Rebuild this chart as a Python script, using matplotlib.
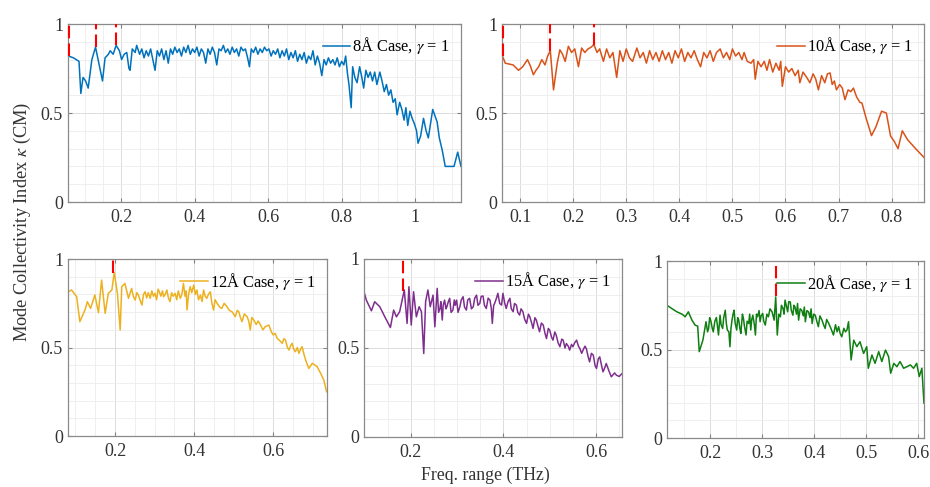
import matplotlib
matplotlib.use('Agg')
import matplotlib.pyplot as plt
from matplotlib.ticker import MultipleLocator, FuncFormatter

plt.rcParams['font.family'] = ['Liberation Serif', 'DejaVu Serif']
plt.rcParams['mathtext.fontset'] = 'stix'

# 8 A case
x8 = [0.056, 0.070, 0.085, 0.090, 0.096, 0.103, 0.110, 0.120, 0.130, 0.140, 0.149, 0.156, 0.165, 0.170,
      0.178, 0.186, 0.195, 0.201, 0.208, 0.215, 0.221, 0.224, 0.230, 0.238, 0.242, 0.250, 0.256, 0.262,
      0.268, 0.274, 0.280, 0.286, 0.292, 0.298, 0.304, 0.310, 0.316, 0.322, 0.328, 0.334, 0.340, 0.346,
      0.352, 0.358, 0.364, 0.370, 0.376, 0.382, 0.388, 0.394, 0.400, 0.406, 0.412, 0.418, 0.424, 0.430,
      0.436, 0.442, 0.448, 0.454, 0.460, 0.466, 0.472, 0.478, 0.484, 0.490, 0.496, 0.502, 0.508, 0.514,
      0.520, 0.526, 0.532, 0.538, 0.544, 0.549, 0.554, 0.560, 0.566, 0.572, 0.578, 0.584, 0.590, 0.596,
      0.602, 0.608, 0.614, 0.620, 0.626, 0.632, 0.638, 0.644, 0.650, 0.656, 0.662, 0.668, 0.674, 0.680,
      0.686, 0.692, 0.698, 0.704, 0.710, 0.716, 0.722, 0.728, 0.734, 0.740, 0.746, 0.752, 0.758, 0.764,
      0.770, 0.776, 0.782, 0.788, 0.794, 0.800, 0.806, 0.811, 0.816, 0.820, 0.826, 0.830, 0.836, 0.842,
      0.849, 0.855, 0.860, 0.866, 0.872, 0.878, 0.884, 0.890, 0.896, 0.904, 0.910, 0.916, 0.922, 0.928,
      0.934, 0.940, 0.946, 0.951, 0.958, 0.964, 0.970, 0.975, 0.980, 0.986, 0.992, 0.998, 1.004, 1.008,
      1.015, 1.023, 1.030, 1.036, 1.042, 1.048, 1.055, 1.060, 1.066, 1.074, 1.082, 1.095, 1.106, 1.116,
      1.125]
y8 = [0.82, 0.81, 0.79, 0.61, 0.70, 0.68, 0.64, 0.80, 0.87, 0.77, 0.68, 0.81, 0.83, 0.85,
      0.83, 0.88, 0.85, 0.80, 0.83, 0.84, 0.75, 0.74, 0.86, 0.84, 0.88, 0.83, 0.86, 0.81,
      0.85, 0.82, 0.86, 0.80, 0.74, 0.85, 0.82, 0.86, 0.80, 0.85, 0.78, 0.86, 0.83, 0.87,
      0.84, 0.86, 0.82, 0.87, 0.84, 0.88, 0.83, 0.86, 0.84, 0.87, 0.82, 0.86, 0.84, 0.78,
      0.86, 0.83, 0.87, 0.84, 0.77, 0.86, 0.85, 0.88, 0.84, 0.86, 0.83, 0.87, 0.84, 0.86,
      0.82, 0.87, 0.85, 0.86, 0.81, 0.76, 0.86, 0.84, 0.87, 0.83, 0.86, 0.84, 0.87, 0.85,
      0.86, 0.82, 0.85, 0.83, 0.86, 0.81, 0.85, 0.82, 0.86, 0.80, 0.84, 0.81, 0.85, 0.79,
      0.83, 0.80, 0.84, 0.78, 0.82, 0.80, 0.85, 0.77, 0.82, 0.78, 0.71, 0.80, 0.77, 0.81,
      0.78, 0.80, 0.77, 0.81, 0.76, 0.79, 0.77, 0.82, 0.72, 0.66, 0.53, 0.76, 0.70, 0.67,
      0.76, 0.70, 0.64, 0.74, 0.70, 0.73, 0.68, 0.73, 0.66, 0.73, 0.68, 0.62, 0.66, 0.60,
      0.63, 0.56, 0.58, 0.49, 0.56, 0.52, 0.46, 0.53, 0.43, 0.51, 0.47, 0.44, 0.40, 0.33,
      0.37, 0.47, 0.40, 0.36, 0.44, 0.52, 0.48, 0.45, 0.36, 0.29, 0.20, 0.20, 0.20, 0.28,
      0.20]

# 10 A case
x10 = [0.067, 0.072, 0.087, 0.097, 0.105, 0.114, 0.120, 0.125, 0.130, 0.135, 0.141, 0.147, 0.152, 0.157,
       0.163, 0.170, 0.175, 0.180, 0.185, 0.191, 0.197, 0.203, 0.210, 0.216, 0.222, 0.228, 0.234, 0.239,
       0.245, 0.250, 0.257, 0.263, 0.269, 0.275, 0.282, 0.288, 0.294, 0.300, 0.306, 0.312, 0.320, 0.326,
       0.332, 0.338, 0.344, 0.350, 0.356, 0.362, 0.368, 0.374, 0.380, 0.386, 0.392, 0.398, 0.404, 0.410,
       0.416, 0.422, 0.428, 0.434, 0.440, 0.446, 0.452, 0.458, 0.464, 0.470, 0.477, 0.483, 0.489, 0.495,
       0.500, 0.506, 0.512, 0.518, 0.522, 0.528, 0.535, 0.540, 0.543, 0.548, 0.554, 0.560, 0.565, 0.570,
       0.576, 0.582, 0.588, 0.591, 0.594, 0.600, 0.606, 0.612, 0.618, 0.624, 0.627, 0.633, 0.640, 0.646,
       0.652, 0.657, 0.662, 0.668, 0.674, 0.679, 0.684, 0.688, 0.692, 0.696, 0.702, 0.707, 0.712, 0.718,
       0.723, 0.728, 0.734, 0.740, 0.744, 0.752, 0.762, 0.770, 0.781, 0.790, 0.798, 0.805, 0.812, 0.820,
       0.830, 0.845, 0.861]
y10 = [0.82, 0.78, 0.77, 0.74, 0.76, 0.80, 0.76, 0.715, 0.74, 0.76, 0.80, 0.77, 0.82, 0.85,
       0.63, 0.78, 0.855, 0.83, 0.79, 0.875, 0.84, 0.86, 0.76, 0.865, 0.84, 0.86, 0.87, 0.885,
       0.84, 0.86, 0.79, 0.86, 0.81, 0.84, 0.70, 0.85, 0.79, 0.86, 0.81, 0.79, 0.865, 0.81,
       0.84, 0.78, 0.85, 0.80, 0.84, 0.79, 0.85, 0.80, 0.84, 0.78, 0.85, 0.81, 0.86, 0.79,
       0.84, 0.81, 0.85, 0.80, 0.76, 0.84, 0.81, 0.85, 0.79, 0.84, 0.86, 0.81, 0.84, 0.80,
       0.86, 0.82, 0.84, 0.80, 0.84, 0.79, 0.78, 0.80, 0.69, 0.79, 0.76, 0.79, 0.74, 0.80,
       0.73, 0.78, 0.74, 0.79, 0.65, 0.76, 0.73, 0.75, 0.71, 0.74, 0.67, 0.73, 0.70, 0.67,
       0.72, 0.69, 0.63, 0.71, 0.67, 0.72, 0.725, 0.66, 0.68, 0.63, 0.66, 0.64, 0.575, 0.63,
       0.62, 0.64, 0.59, 0.56, 0.556, 0.47, 0.373, 0.42, 0.51, 0.50, 0.37, 0.34, 0.30, 0.40,
       0.35, 0.30, 0.25]

# 12 A case
x12 = [0.082, 0.090, 0.103, 0.111, 0.124, 0.130, 0.138, 0.149, 0.158, 0.166, 0.175, 0.183, 0.192, 0.198,
       0.206, 0.213, 0.217, 0.225, 0.234, 0.242, 0.246, 0.251, 0.255, 0.259, 0.263, 0.268, 0.272, 0.276,
       0.280, 0.284, 0.289, 0.293, 0.297, 0.301, 0.305, 0.309, 0.312, 0.316, 0.320, 0.323, 0.327, 0.331,
       0.335, 0.339, 0.343, 0.347, 0.352, 0.356, 0.360, 0.365, 0.369, 0.373, 0.377, 0.380, 0.382, 0.386,
       0.390, 0.394, 0.399, 0.403, 0.407, 0.411, 0.416, 0.420, 0.424, 0.428, 0.432, 0.436, 0.441, 0.445,
       0.449, 0.453, 0.458, 0.464, 0.470, 0.476, 0.483, 0.489, 0.496, 0.504, 0.509, 0.513, 0.517, 0.521,
       0.527, 0.534, 0.538, 0.542, 0.546, 0.551, 0.557, 0.562, 0.568, 0.574, 0.580, 0.589, 0.595, 0.600,
       0.605, 0.610, 0.616, 0.623, 0.627, 0.631, 0.636, 0.640, 0.644, 0.648, 0.652, 0.656, 0.661, 0.665,
       0.669, 0.673, 0.678, 0.682, 0.690, 0.699, 0.711, 0.720, 0.728, 0.735]
y12 = [0.815, 0.825, 0.787, 0.646, 0.712, 0.759, 0.721, 0.797, 0.697, 0.881, 0.693, 0.806, 0.825, 0.925,
       0.806, 0.599, 0.844, 0.862, 0.778, 0.834, 0.79, 0.768, 0.81, 0.797, 0.77, 0.740, 0.80, 0.815,
       0.78, 0.81, 0.778, 0.82, 0.79, 0.806, 0.77, 0.83, 0.815, 0.79, 0.82, 0.787, 0.80, 0.825,
       0.78, 0.759, 0.81, 0.79, 0.806, 0.77, 0.82, 0.778, 0.80, 0.862, 0.79, 0.82, 0.712, 0.80,
       0.844, 0.81, 0.853, 0.80, 0.825, 0.77, 0.797, 0.76, 0.825, 0.79, 0.778, 0.80, 0.815, 0.75,
       0.712, 0.77, 0.750, 0.73, 0.721, 0.75, 0.731, 0.71, 0.702, 0.674, 0.71, 0.702, 0.67, 0.646,
       0.69, 0.674, 0.65, 0.599, 0.67, 0.655, 0.63, 0.65, 0.627, 0.60, 0.618, 0.627, 0.59, 0.571,
       0.58, 0.552, 0.54, 0.524, 0.55, 0.542, 0.50, 0.486, 0.51, 0.524, 0.49, 0.476, 0.50, 0.467,
       0.49, 0.505, 0.46, 0.429, 0.382, 0.411, 0.392, 0.354, 0.316, 0.250]

# 15 A case
x15 = [0.099, 0.104, 0.115, 0.122, 0.133, 0.144, 0.156, 0.163, 0.169, 0.176, 0.186, 0.192, 0.196, 0.201,
       0.206, 0.212, 0.218, 0.223, 0.228, 0.232, 0.237, 0.242, 0.248, 0.252, 0.257, 0.260, 0.263, 0.265,
       0.268, 0.270, 0.273, 0.276, 0.278, 0.281, 0.284, 0.287, 0.291, 0.294, 0.296, 0.299, 0.302, 0.306,
       0.309, 0.313, 0.316, 0.320, 0.323, 0.327, 0.331, 0.335, 0.338, 0.342, 0.345, 0.349, 0.352, 0.356,
       0.359, 0.363, 0.367, 0.371, 0.374, 0.376, 0.379, 0.381, 0.385, 0.388, 0.392, 0.396, 0.399, 0.403,
       0.406, 0.410, 0.414, 0.417, 0.421, 0.424, 0.428, 0.431, 0.435, 0.438, 0.442, 0.446, 0.450, 0.454,
       0.457, 0.461, 0.464, 0.468, 0.471, 0.475, 0.478, 0.482, 0.486, 0.490, 0.493, 0.497, 0.500, 0.504,
       0.507, 0.511, 0.514, 0.518, 0.522, 0.526, 0.529, 0.533, 0.536, 0.540, 0.543, 0.547, 0.550, 0.554,
       0.558, 0.562, 0.565, 0.569, 0.572, 0.576, 0.579, 0.583, 0.586, 0.590, 0.594, 0.598, 0.601, 0.605,
       0.608, 0.612, 0.615, 0.619, 0.622, 0.628, 0.633, 0.640, 0.644, 0.650, 0.656]
y15 = [0.816, 0.769, 0.709, 0.760, 0.732, 0.675, 0.615, 0.713, 0.675, 0.704, 0.826, 0.638, 0.844, 0.629,
       0.816, 0.675, 0.732, 0.704, 0.469, 0.760, 0.826, 0.732, 0.797, 0.619, 0.835, 0.700, 0.722, 0.760,
       0.657, 0.740, 0.769, 0.720, 0.732, 0.760, 0.779, 0.700, 0.713, 0.770, 0.740, 0.769, 0.700, 0.732,
       0.770, 0.788, 0.730, 0.713, 0.770, 0.779, 0.720, 0.732, 0.780, 0.797, 0.740, 0.750, 0.790, 0.792,
       0.740, 0.722, 0.780, 0.769, 0.720, 0.638, 0.740, 0.750, 0.780, 0.807, 0.750, 0.741, 0.807, 0.750,
       0.722, 0.760, 0.779, 0.720, 0.704, 0.750, 0.741, 0.700, 0.685, 0.720, 0.704, 0.660, 0.638, 0.690,
       0.675, 0.640, 0.610, 0.670, 0.657, 0.620, 0.591, 0.640, 0.629, 0.580, 0.553, 0.610, 0.600, 0.560,
       0.544, 0.590, 0.572, 0.530, 0.507, 0.550, 0.544, 0.500, 0.525, 0.510, 0.488, 0.520, 0.507, 0.530,
       0.544, 0.510, 0.497, 0.470, 0.488, 0.510, 0.497, 0.450, 0.422, 0.470, 0.460, 0.400, 0.385, 0.440,
       0.450, 0.400, 0.366, 0.390, 0.413, 0.370, 0.338, 0.360, 0.347, 0.340, 0.356]

# 20 A case
x20 = [0.117, 0.126, 0.136, 0.146, 0.152, 0.158, 0.165, 0.171, 0.176, 0.179, 0.186, 0.192, 0.195, 0.197,
       0.199, 0.201, 0.204, 0.206, 0.209, 0.212, 0.214, 0.216, 0.219, 0.221, 0.224, 0.226, 0.229, 0.231,
       0.233, 0.236, 0.238, 0.240, 0.242, 0.244, 0.246, 0.248, 0.251, 0.253, 0.255, 0.257, 0.259, 0.262,
       0.264, 0.266, 0.269, 0.271, 0.274, 0.276, 0.278, 0.280, 0.282, 0.285, 0.287, 0.289, 0.291, 0.294,
       0.296, 0.298, 0.301, 0.303, 0.306, 0.309, 0.312, 0.315, 0.319, 0.321, 0.323, 0.326, 0.329, 0.332,
       0.335, 0.337, 0.340, 0.342, 0.344, 0.347, 0.349, 0.351, 0.354, 0.356, 0.359, 0.361, 0.363, 0.366,
       0.368, 0.370, 0.373, 0.376, 0.379, 0.381, 0.383, 0.386, 0.389, 0.392, 0.394, 0.396, 0.399, 0.402,
       0.405, 0.408, 0.411, 0.415, 0.418, 0.421, 0.424, 0.428, 0.432, 0.437, 0.441, 0.444, 0.447, 0.450,
       0.453, 0.457, 0.460, 0.463, 0.466, 0.471, 0.476, 0.482, 0.488, 0.495, 0.501, 0.504, 0.511, 0.517,
       0.524, 0.530, 0.537, 0.543, 0.547, 0.553, 0.559, 0.565, 0.572, 0.578, 0.585, 0.591, 0.597, 0.602,
       0.607, 0.611]
y20 = [0.750, 0.732, 0.713, 0.700, 0.685, 0.713, 0.666, 0.638, 0.632, 0.488, 0.553, 0.657, 0.600, 0.619,
       0.680, 0.666, 0.620, 0.600, 0.660, 0.681, 0.630, 0.582, 0.694, 0.640, 0.619, 0.680, 0.722, 0.650,
       0.610, 0.600, 0.516, 0.620, 0.666, 0.700, 0.722, 0.650, 0.610, 0.680, 0.666, 0.620, 0.591, 0.700,
       0.675, 0.630, 0.582, 0.660, 0.647, 0.700, 0.610, 0.670, 0.694, 0.640, 0.582, 0.700, 0.685, 0.720,
       0.657, 0.690, 0.704, 0.660, 0.638, 0.700, 0.685, 0.730, 0.713, 0.690, 0.666, 0.797, 0.582, 0.700,
       0.685, 0.750, 0.732, 0.700, 0.779, 0.740, 0.713, 0.770, 0.769, 0.720, 0.694, 0.750, 0.741, 0.700,
       0.760, 0.666, 0.730, 0.722, 0.690, 0.740, 0.657, 0.720, 0.713, 0.680, 0.730, 0.647, 0.700, 0.694,
       0.660, 0.629, 0.690, 0.666, 0.640, 0.619, 0.670, 0.647, 0.620, 0.582, 0.640, 0.600, 0.629, 0.590,
       0.572, 0.620, 0.600, 0.610, 0.657, 0.441, 0.553, 0.516, 0.544, 0.478, 0.516, 0.394, 0.469, 0.422,
       0.488, 0.432, 0.497, 0.460, 0.366, 0.422, 0.403, 0.432, 0.394, 0.403, 0.413, 0.394, 0.422, 0.347,
       0.394, 0.197]

# red dashed markers: x position, lower and upper end
mark8 = [(0.057, 0.82, 1.0), (0.130, 0.87, 1.0), (0.186, 0.88, 1.0)]
mark10 = [(0.068, 0.82, 1.0), (0.157, 0.85, 1.0), (0.239, 0.88, 1.0)]
mark12 = [(0.194, 0.92, 1.0)]
mark15 = [(0.183, 0.82, 1.0)]
mark20 = [(0.326, 0.80, 0.97)]

labels = ['8Å', '10Å', '12Å', '15Å', '20Å']
colors = ['#0072BD', '#D95319', '#EDB120', '#7E2F8E', '#0F7F12']
xlims = [(0.055, 1.125), (0.066, 0.861), (0.081, 0.736), (0.099, 0.656), (0.117, 0.611)]
xsteps = [0.2, 0.1, 0.2, 0.2, 0.1]
boxes = [[0.0731, 0.5852, 0.4226, 0.3655], [0.5398, 0.5852, 0.4538, 0.3655],
         [0.0731, 0.1047, 0.2785, 0.3634], [0.3914, 0.1027, 0.2774, 0.3655],
         [0.7172, 0.1006, 0.2763, 0.3634]]

data = [(x8, y8, mark8), (x10, y10, mark10), (x12, y12, mark12), (x15, y15, mark15), (x20, y20, mark20)]

fig = plt.figure(figsize=(9.3, 4.87), dpi=100)
fmt = FuncFormatter(lambda v, p: '%g' % round(v, 3))

for i in range(5):
    xs, ys, marks = data[i]
    ax = fig.add_axes(boxes[i])
    ax.plot(xs, ys, color=colors[i], lw=1.1, label=labels[i] + r' Case, $\gamma$ = 1')
    for mx, lo, hi in marks:
        ax.plot([mx, mx], [lo, hi], color='red', lw=1.5, linestyle=(0, (6, 2.5)),
                zorder=4, clip_on=False)
    ax.set_xlim(xlims[i])
    ax.set_ylim(0, 1)
    ax.xaxis.set_major_locator(MultipleLocator(xsteps[i]))
    ax.xaxis.set_minor_locator(MultipleLocator(0.05))
    ax.yaxis.set_major_locator(MultipleLocator(0.5))
    ax.yaxis.set_minor_locator(MultipleLocator(0.1))
    ax.xaxis.set_major_formatter(fmt)
    ax.yaxis.set_major_formatter(fmt)
    ax.grid(which='major', color='#dcdcdc', lw=0.7)
    ax.grid(which='minor', color='#ececec', lw=0.6)
    ax.set_axisbelow(True)
    ax.tick_params(which='major', direction='in', length=3, top=True, right=True,
                   labelsize=13, colors='#808080', labelcolor='#333333')
    ax.tick_params(axis='x', pad=5)
    ax.tick_params(which='minor', length=0)
    for s in ax.spines.values():
        s.set_color('#8a8a8a')
        s.set_linewidth(0.9)
    ax.legend(loc='upper right', frameon=False, fontsize=11.8, handlelength=1.7,
              handletextpad=0.1, borderaxespad=0.3)

fig.text(0.024, 0.545, r'Mode Collectivity Index $\kappa$ (CM)', rotation=90,
         ha='center', va='center', fontsize=13.2, color='#333333')
fig.text(0.522, 0.023, 'Freq. range (THz)', ha='center', va='center', fontsize=12.8, color='#333333')

fig.savefig('out.png', dpi=100)
